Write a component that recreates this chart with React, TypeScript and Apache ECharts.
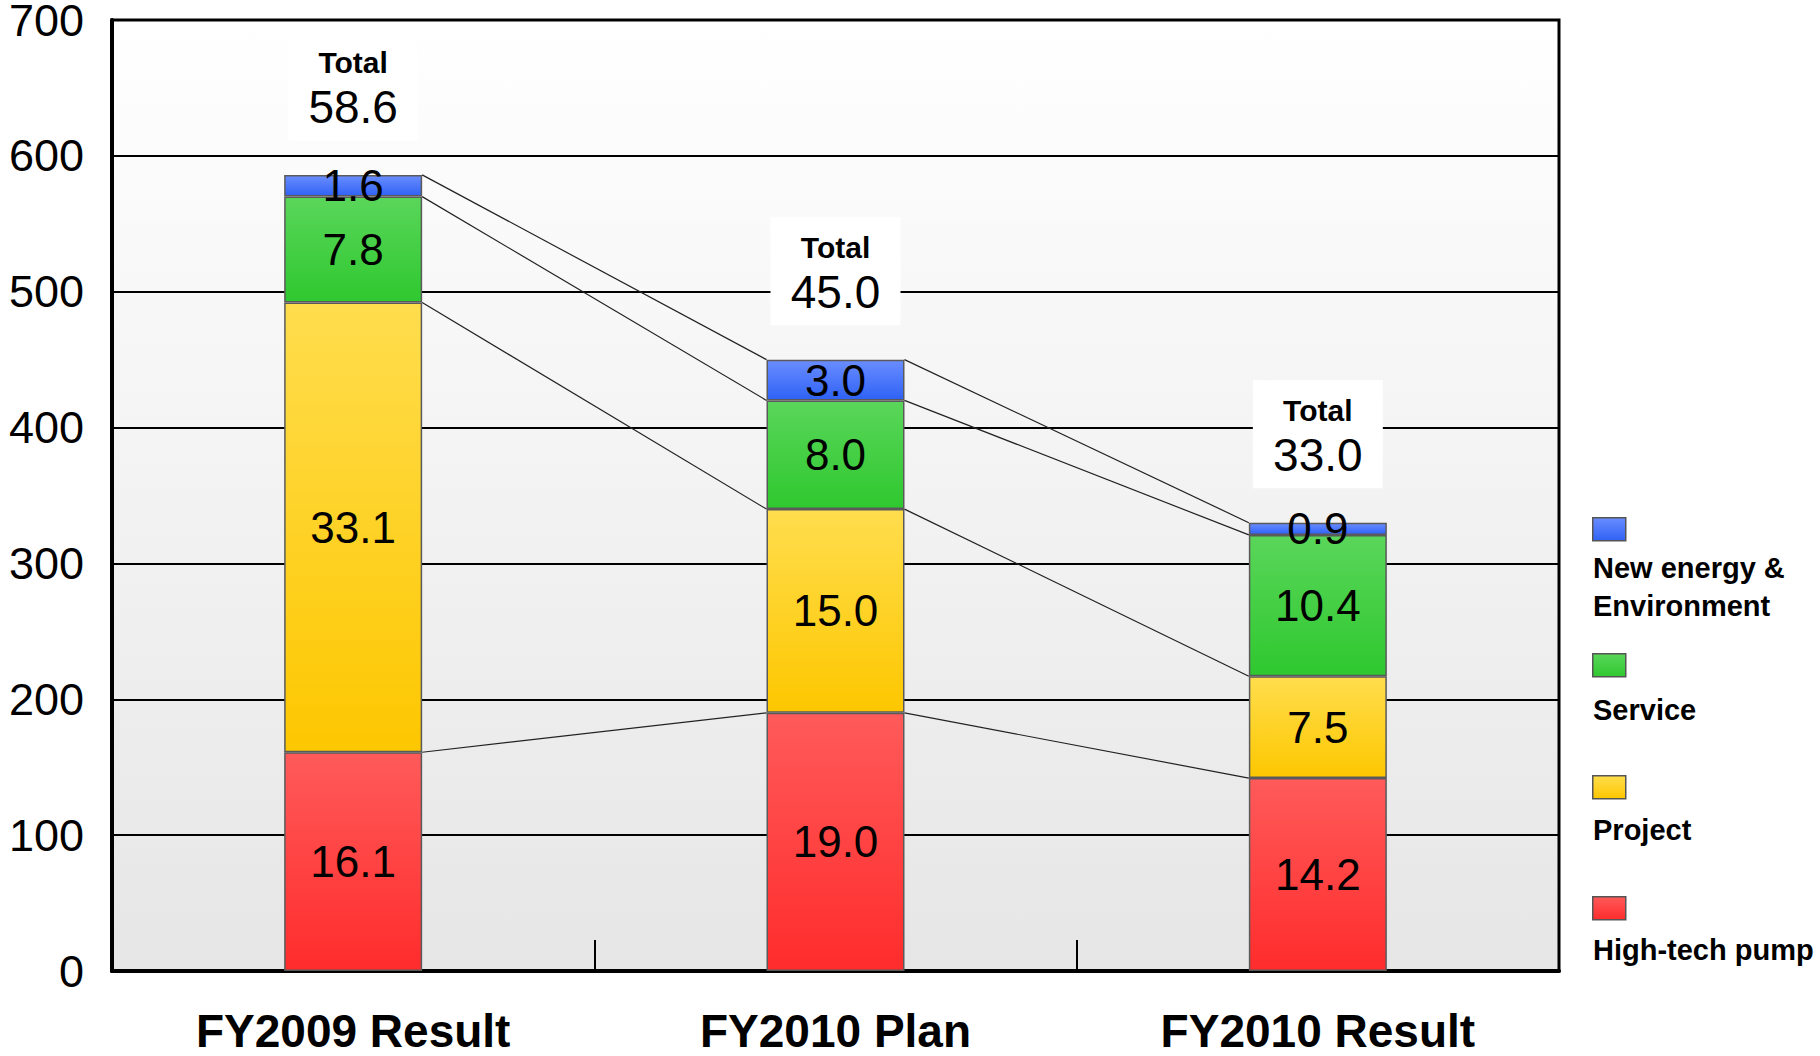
import React, { useEffect, useRef } from "react";
import * as echarts from "echarts";

// ---- data (axis units: 100 million yen; labels shown in 10 billion yen) ----
const categories = ["FY2009 Result", "FY2010 Plan", "FY2010 Result"];
const highTechPump = [161, 190, 142];
const project = [331, 150, 75];
const service = [78, 80, 104];
const newEnergy = [16, 30, 9];
const seriesNames = ["High-tech pump", "Project", "Service", "New energy & Environment"];
const legendLabels = ["New energy &\nEnvironment", "Service", "Project", "High-tech pump"];
const yMin = 0;
const yMax = 700;
const yInterval = 100;

const SANS = '"Liberation Sans", Arial, sans-serif';

const palette = [
  ["#ff5a5a", "#ff2c2c"], // red
  ["#ffdd4d", "#fdc700"], // yellow
  ["#5ad65a", "#2fc82f"], // green
  ["#6a8dff", "#2f62f5"], // blue
];

const grad = (c: string[]) =>
  new echarts.graphic.LinearGradient(0, 0, 0, 1, [
    { offset: 0, color: c[0] },
    { offset: 1, color: c[1] },
  ]);

const BAR_WIDTH = 138;

export default function App() {
  const ref = useRef<HTMLDivElement>(null);

  useEffect(() => {
    if (!ref.current) return;
    const chart = echarts.init(ref.current, null, { renderer: "svg" });

    const stacks = [highTechPump, project, service, newEnergy];
    const cum: number[][] = [];
    stacks.forEach((arr, k) => {
      cum.push(arr.map((v, i) => v + (k > 0 ? cum[k - 1][i] : 0)));
    });
    const totals = cum[cum.length - 1];

    const connData: number[][] = [];
    cum.forEach((lvl) => {
      for (let i = 0; i < categories.length - 1; i++) {
        connData.push([i, lvl[i], lvl[i + 1]]);
      }
    });

    const barSeries = stacks.map((arr, k) => ({
      type: "bar",
      name: seriesNames[k],
      stack: "total",
      barWidth: BAR_WIDTH,
      data: arr,
      itemStyle: {
        color: grad(palette[k]),
        borderColor: "#5a5a5a",
        borderWidth: 1.5,
      },
      label: {
        show: true,
        position: "inside",
        formatter: (p: any) => (p.value / 10).toFixed(1),
        fontFamily: SANS,
        fontSize: 44,
        color: "#000",
        textBorderWidth: 0,
      },
      z: 3,
    }));

    // legend built with graphic (text below swatches)
    const legendOrder = [3, 2, 1, 0];
    const iconY = [517, 653, 775, 896];
    const textY = [587, 710, 830, 950];
    const legendGraphics: any[] = [];
    legendOrder.forEach((k, j) => {
      legendGraphics.push({
        type: "rect",
        left: 1592,
        top: iconY[j],
        shape: { width: 33, height: 23 },
        style: { fill: grad(palette[k]), stroke: "#555", lineWidth: 1.5 },
      });
      legendGraphics.push({
        type: "text",
        x: 1593,
        y: textY[j],
        style: {
          text: legendLabels[j],
          font: `bold 29px ${SANS}`,
          fill: "#000",
          textVerticalAlign: "middle",
          lineHeight: 38,
        },
      });
    });

    chart.setOption({
      animation: false,
      grid: {
        left: 112,
        right: 261,
        top: 20,
        bottom: 85,
        containLabel: false,
        outerBoundsMode: "none",
        show: true,
        borderColor: "#000",
        borderWidth: 3,
        backgroundColor: new echarts.graphic.LinearGradient(0, 0, 0, 1, [
          { offset: 0, color: "#ffffff" },
          { offset: 1, color: "#e6e6e6" },
        ]),
      },
      xAxis: {
        type: "category",
        data: categories,
        axisLine: { show: true, lineStyle: { color: "#000", width: 4 } },
        axisTick: { show: true, inside: true, length: 31, lineStyle: { color: "#000", width: 2 } },
        axisLabel: {
          fontFamily: SANS,
          fontWeight: "bold",
          fontSize: 46,
          color: "#000",
          margin: 37,
        },
      },
      yAxis: {
        type: "value",
        min: yMin,
        max: yMax,
        interval: yInterval,
        axisLine: { show: true, lineStyle: { color: "#000", width: 4 } },
        axisTick: { show: false },
        axisLabel: {
          fontFamily: SANS,
          fontSize: 45,
          lineHeight: 38,
          color: "#000",
          margin: 28,
        },
        splitLine: { show: true, lineStyle: { color: "#000", width: 2 } },
      },
      series: [
        ...barSeries,
        {
          type: "custom",
          name: "connectors",
          data: connData,
          encode: { x: 0, y: [1, 2] },
          z: 4,
          silent: true,
          renderItem: (params: any, api: any) => {
            const i = api.value(0);
            const p1 = api.coord([i, api.value(1)]);
            const p2 = api.coord([i + 1, api.value(2)]);
            const half = BAR_WIDTH / 2;
            return {
              type: "line",
              shape: { x1: p1[0] + half, y1: p1[1], x2: p2[0] - half, y2: p2[1] },
              style: { stroke: "#222", lineWidth: 1.2 },
            };
          },
        },
        {
          type: "scatter",
          name: "Total",
          data: totals,
          symbolSize: 1,
          itemStyle: { color: "rgba(255,255,255,0)" },
          z: 5,
          label: {
            show: true,
            position: "top",
            distance: 34,
            color: "#000",
            opacity: 1,
            textBorderWidth: 0,
            backgroundColor: "#fff",
            width: 130,
            padding: [10, 0, 8, 0],
            align: "center",
            formatter: (p: any) => `{t|Total}\n{v|${(p.value / 10).toFixed(1)}}`,
            rich: {
              t: {
                fontFamily: SANS,
                fontWeight: "bold",
                fontSize: 30,
                lineHeight: 40,
                color: "#000",
                align: "center",
                width: 130,
              },
              v: {
                fontFamily: SANS,
                fontSize: 46,
                lineHeight: 50,
                color: "#000",
                align: "center",
                width: 130,
              },
            },
          },
        },
      ],
      graphic: legendGraphics,
    });

    return () => chart.dispose();
  }, []);

  return (
    <div
      ref={ref}
      style={{ position: "fixed", left: 0, top: 0, width: 1820, height: 1056, background: "#fff" }}
    />
  );
}
